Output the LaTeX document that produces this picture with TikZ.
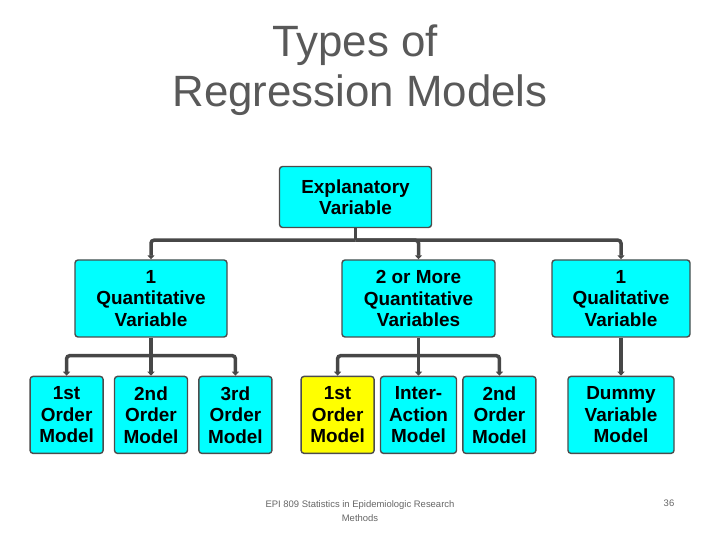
\documentclass[tikz,border=0pt]{standalone}
\usepackage{fontspec}
\setmainfont{Liberation Sans}
\usetikzlibrary{positioning, arrows.meta}
\definecolor{aqua}{RGB}{0,255,255}
\definecolor{lemon}{RGB}{255,255,0}

\begin{document}
\begin{tikzpicture}[x=1bp, y=1bp, node distance=38bp and 10bp]
    \tikzset{
      box/.style={
        rectangle, rounded corners=3bp,
        draw=black!70, line width=1.4bp, fill=aqua,
        align=center, inner sep=0pt,
        minimum width=152bp, minimum height=77bp,
        font=\bfseries\fontsize{19}{21.5}\selectfont
      },
      leaf/.style={box, minimum width=73bp},
      link/.style={draw=black!72, line width=3.5bp, rounded corners=3bp},
      tip/.style={-{Triangle[length=4bp,width=7bp]}}
    }
    \useasboundingbox (0,0) rectangle (720,540);

    % Title
    \node[anchor=base, text=black!65, font=\fontsize{44}{50}\selectfont] (title1) at (355,483) {Types of};
    \node[anchor=base, text=black!65, font=\fontsize{44}{50}\selectfont] (title2) at (360,433) {Regression Models};

    % Row 1
    \node[box, minimum height=61bp] (top) at (355.5,343) {Explanatory\\Variable};

    % Row 2
    \node[box] (q1) at (151,241.5) {1\\Quantitative\\Variable};
    \node[box, minimum width=153bp] (qn) at (418.5,241.5) {2 or More\\Quantitative\\Variables};
    \node[box, minimum width=138bp] (ql) at (621,241.5) {1\\Qualitative\\Variable};

    % Row 3
    \node[leaf, below=of q1] (l2) {2nd\\Order\\Model};
    \node[leaf, left=of l2] (l1) {1st\\Order\\Model};
    \node[leaf, right=of l2] (l3) {3rd\\Order\\Model};
    \node[leaf, minimum width=76bp, below=of qn] (m2) {Inter-\\Action\\Model};
    \node[leaf, fill=lemon, left=5bp of m2] (m1) {1st\\Order\\Model};
    \node[leaf, right=5bp of m2] (m3) {2nd\\Order\\Model};
    \node[leaf, minimum width=106bp, below=of ql] (d1) {Dummy\\Variable\\Model};

    % Connectors
    \draw[link] (top.south) -- ++(0,-12) coordinate (j0);
    \draw[link, tip] (j0) -| (q1.north);
    \draw[link, tip] (j0) -| (qn.north);
    \draw[link, tip] (j0) -| (ql.north);

    \draw[link] (q1.south) -- ++(0,-18) coordinate (j1);
    \draw[link, tip] (j1) -| (l1.north);
    \draw[link, tip] (j1) -- (l2.north);
    \draw[link, tip] (j1) -| (l3.north);

    \draw[link] (qn.south) -- ++(0,-18) coordinate (j2);
    \draw[link, tip] (j2) -| (m1.north);
    \draw[link, tip] (j2) -- (m2.north);
    \draw[link, tip] (j2) -| (m3.north);

    \draw[link, tip] (ql.south) -- (d1.north);

    % Footer
    \node[anchor=base, text=black!60, font=\fontsize{9.5}{15}\selectfont, align=center] (foot) at (360,18) {EPI 809 Statistics in Epidemiologic Research\\Methods};
    \node[anchor=base, text=black!60, font=\fontsize{9.5}{15}\selectfont] (page) at (669,33) {36};
\end{tikzpicture}
\end{document}
